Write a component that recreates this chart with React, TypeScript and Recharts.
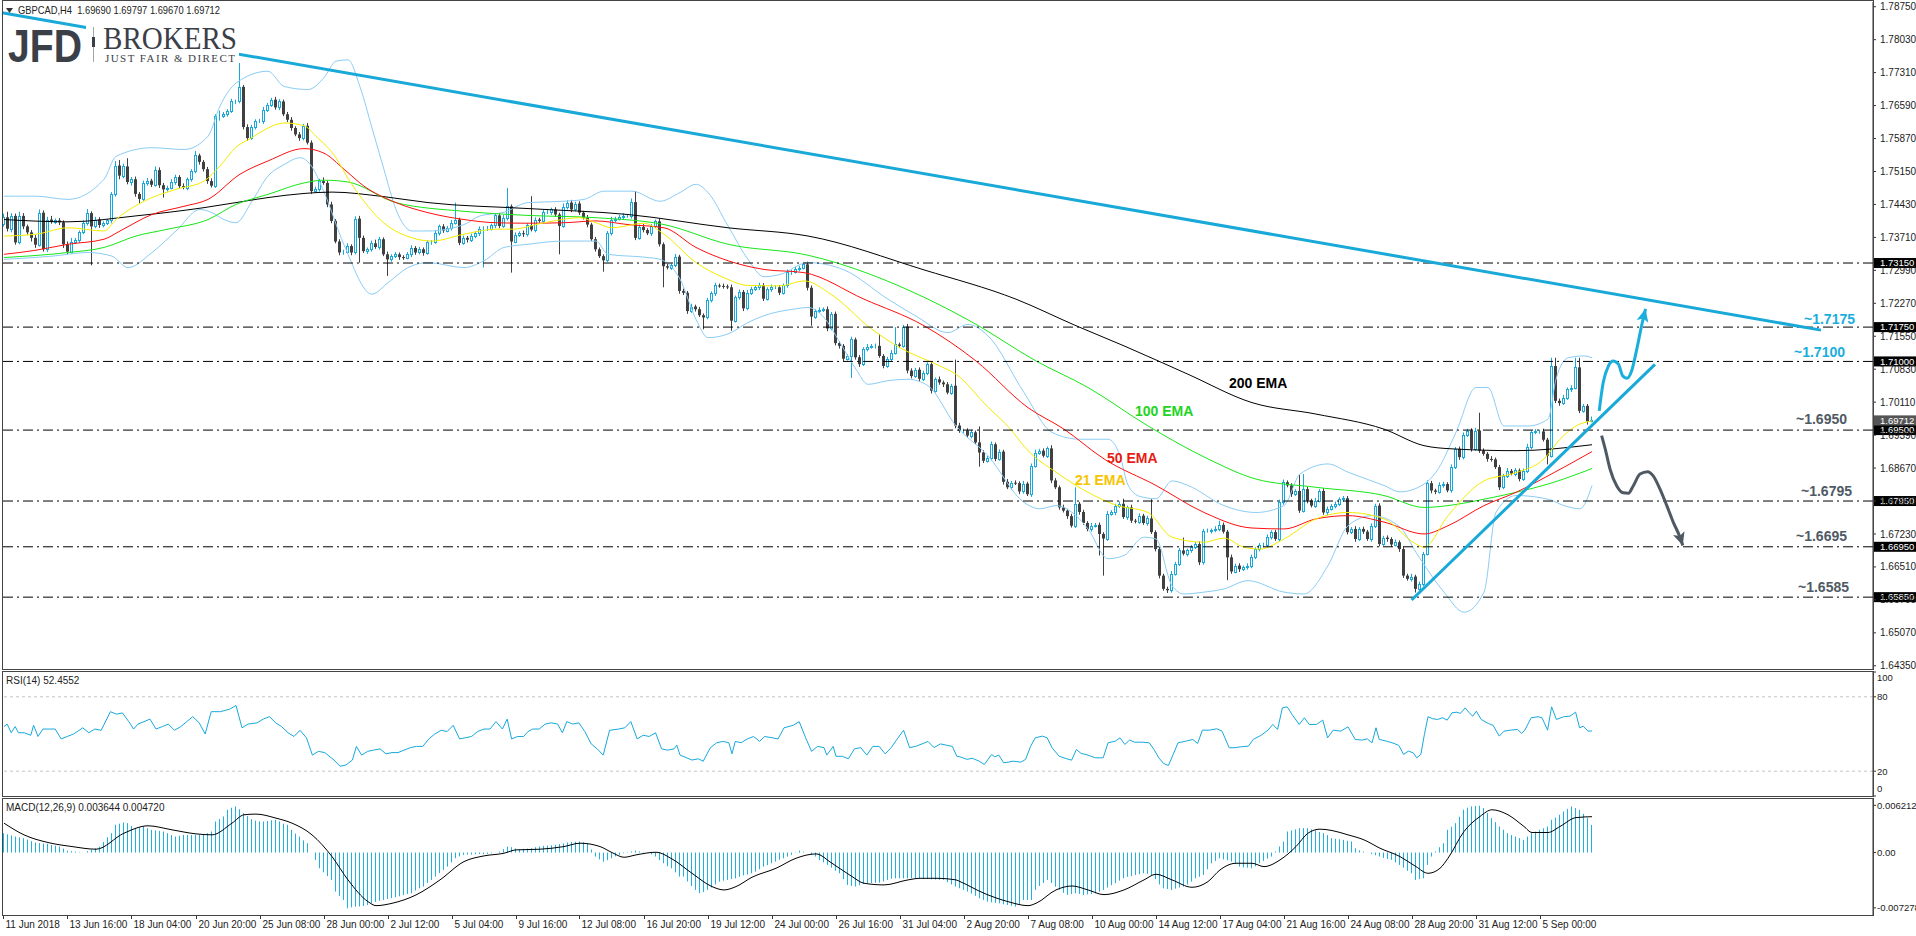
import React from 'react';
import { ComposedChart, Bar, Line, XAxis, YAxis, ReferenceLine } from 'recharts';

// GBPCAD H4, 11 Jun - 6 Sep 2018. Prices are kept in pips above 1.6000.
const FIRST_OPEN = 1400;

const closes = [
  1415, 1390, 1418, 1360, 1418, 1395, 1382, 1370, 1355, 1425,
  1345, 1410, 1405, 1408, 1404, 1356, 1340, 1362, 1365, 1382,
  1402, 1424, 1395, 1410, 1398, 1402, 1408, 1465, 1528, 1506,
  1526, 1492, 1498, 1466, 1455, 1490, 1495, 1486, 1518, 1485,
  1476, 1480, 1492, 1503, 1483, 1480, 1498, 1515, 1550, 1536,
  1520, 1494, 1484, 1636, 1636, 1640, 1647, 1668, 1668, 1700,
  1612, 1588, 1612, 1625, 1625, 1650, 1660, 1672, 1655, 1668,
  1640, 1628, 1610, 1596, 1588, 1615, 1578, 1472, 1476, 1494,
  1490, 1443, 1407, 1362, 1338, 1340, 1352, 1338, 1412, 1370,
  1341, 1345, 1358, 1350, 1367, 1334, 1323, 1330, 1334, 1328,
  1327, 1334, 1348, 1338, 1345, 1337, 1360, 1361, 1381, 1395,
  1386, 1392, 1403, 1410, 1359, 1370, 1366, 1373, 1380, 1390,
  1390, 1390, 1397, 1419, 1396, 1414, 1439, 1362, 1377, 1380,
  1378, 1397, 1388, 1410, 1407, 1426, 1426, 1432, 1421, 1396,
  1437, 1447, 1432, 1445, 1425, 1414, 1399, 1367, 1345, 1330,
  1321, 1380, 1410, 1412, 1415, 1418, 1418, 1448, 1370, 1394,
  1387, 1380, 1395, 1406, 1356, 1308, 1305, 1310, 1329, 1254,
  1250, 1210, 1220, 1214, 1201, 1196, 1234, 1249, 1266, 1265,
  1264, 1262, 1189, 1240, 1252, 1216, 1250, 1258, 1262, 1266,
  1237, 1258, 1262, 1262, 1250, 1266, 1295, 1296, 1302, 1305,
  1312, 1261, 1198, 1210, 1213, 1214, 1172, 1204, 1140, 1134,
  1106, 1111, 1148, 1109, 1094, 1127, 1132, 1134, 1134, 1112,
  1090, 1105, 1119, 1137, 1134, 1176, 1080, 1068, 1082, 1062,
  1074, 1094, 1036, 1061, 1054, 1050, 1032, 1047, 960, 948,
  949, 938, 945, 923, 901, 883, 890, 919, 887, 903,
  837, 825, 835, 834, 816, 833, 810, 872, 901, 905,
  894, 910, 840, 825, 781, 774, 762, 741, 789, 771,
  747, 734, 741, 743, 723, 713, 767, 770, 785, 789,
  760, 781, 752, 750, 763, 747, 757, 727, 690, 632,
  603, 600, 636, 658, 687, 680, 687, 694, 701, 661,
  730, 730, 731, 734, 743, 728, 672, 641, 654, 646,
  650, 654, 672, 690, 698, 700, 716, 727, 712, 792,
  836, 829, 810, 817, 774, 821, 796, 785, 796, 817,
  770, 778, 784, 788, 799, 801, 727, 734, 712, 734,
  728, 712, 740, 785, 701, 715, 712, 700, 705, 690,
  632, 625, 630, 603, 614, 680, 834, 818, 815, 830,
  832, 818, 869, 909, 891, 939, 949, 909, 949, 905,
  898, 887, 886, 869, 825, 850, 861, 855, 862, 843,
  861, 914, 945, 947, 947, 929, 894, 1090, 1014, 1009,
  1021, 1039, 1043, 1087, 992, 1003, 969, 971.2,
];

// upper and lower shadow length in pips
const wickUp = [
  8, 12, 6, 5, 9, 6, 4, 5, 6, 7,
  5, 6, 8, 4, 5, 4, 6, 8, 5, 4,
  6, 9, 4, 6, 5, 4, 3, 5, 10, 12,
  6, 18, 5, 6, 4, 5, 6, 4, 8, 6,
  5, 4, 6, 5, 4, 6, 4, 5, 10, 4,
  4, 5, 6, 4, 12, 5, 4, 6, 4, 52,
  4, 6, 5, 4, 5, 6, 5, 4, 6, 5,
  4, 5, 6, 4, 5, 4, 6, 5, 6, 5,
  8, 5, 6, 4, 5, 4, 6, 4, 5, 6,
  5, 4, 6, 8, 5, 4, 6, 4, 5, 4,
  4, 5, 6, 4, 5, 4, 5, 4, 6, 4,
  5, 4, 6, 37, 4, 5, 4, 6, 4, 5,
  5, 6, 4, 5, 5, 6, 40, 4, 5, 4,
  6, 5, 64, 5, 4, 5, 6, 4, 5, 4,
  8, 5, 6, 4, 5, 4, 6, 4, 5, 4,
  4, 5, 6, 4, 5, 6, 4, 8, 24, 5,
  6, 4, 5, 4, 6, 4, 5, 4, 6, 4,
  5, 4, 6, 4, 5, 4, 5, 4, 6, 4,
  5, 4, 6, 4, 5, 4, 6, 5, 4, 6,
  5, 4, 6, 4, 5, 4, 6, 4, 5, 4,
  4, 6, 5, 4, 5, 4, 6, 4, 5, 4,
  4, 5, 6, 4, 5, 4, 6, 4, 5, 26,
  4, 5, 6, 38, 4, 4, 6, 5, 4, 5,
  6, 4, 5, 4, 6, 4, 5, 4, 57, 6,
  4, 5, 6, 4, 35, 5, 4, 6, 4, 5,
  4, 6, 4, 5, 4, 6, 4, 5, 6, 4,
  5, 4, 7, 5, 4, 6, 4, 5, 36, 4,
  5, 4, 6, 4, 5, 4, 6, 5, 4, 5,
  11, 4, 6, 4, 5, 4, 6, 42, 4, 5,
  4, 5, 6, 4, 5, 28, 4, 5, 4, 6,
  4, 5, 4, 6, 9, 5, 4, 6, 4, 5,
  4, 5, 6, 4, 5, 4, 6, 4, 5, 6,
  6, 4, 5, 4, 37, 33, 5, 4, 6, 4,
  6, 5, 4, 6, 4, 5, 5, 4, 6, 4,
  5, 4, 6, 4, 5, 4, 5, 4, 6, 4,
  5, 4, 6, 4, 5, 4, 6, 5, 4, 6,
  5, 4, 6, 4, 5, 6, 4, 5, 6, 39,
  5, 4, 6, 4, 5, 4, 6, 4, 5, 4,
  5, 6, 4, 5, 4, 6, 4, 18, 18, 5,
  6, 4, 5, 21, 21, 4, 4, 8.5,
];

const wickDn = [
  5, 6, 8, 5, 4, 6, 5, 8, 7, 4,
  5, 6, 4, 5, 6, 8, 6, 4, 5, 6,
  4, 5, 85, 4, 6, 5, 4, 6, 5, 8,
  6, 5, 8, 6, 10, 4, 6, 5, 4, 6,
  18, 5, 4, 6, 5, 4, 6, 5, 4, 6,
  5, 6, 4, 5, 10, 4, 5, 4, 6, 4,
  5, 6, 4, 5, 4, 6, 5, 4, 5, 6,
  4, 5, 6, 4, 6, 5, 4, 6, 4, 5,
  4, 6, 5, 4, 6, 5, 4, 6, 4, 54,
  4, 6, 5, 4, 6, 4, 36, 5, 4, 6,
  5, 4, 6, 5, 4, 6, 4, 5, 4, 6,
  5, 4, 6, 4, 5, 4, 6, 5, 4, 6,
  85, 5, 4, 6, 5, 4, 6, 68, 4, 5,
  6, 5, 4, 6, 4, 5, 4, 6, 5, 62,
  4, 5, 6, 4, 5, 4, 6, 4, 5, 4,
  25, 4, 5, 6, 4, 5, 4, 6, 5, 4,
  5, 4, 6, 4, 5, 46, 4, 5, 4, 6,
  5, 6, 4, 5, 4, 26, 4, 5, 6, 4,
  5, 4, 22, 4, 5, 6, 4, 5, 4, 6,
  5, 4, 6, 4, 5, 4, 5, 6, 4, 5,
  4, 6, 20, 5, 4, 5, 6, 4, 5, 6,
  5, 4, 47, 5, 6, 4, 5, 4, 6, 4,
  5, 4, 6, 4, 5, 4, 6, 5, 4, 6,
  5, 4, 6, 4, 5, 6, 4, 5, 6, 4,
  5, 4, 6, 4, 31, 5, 4, 6, 5, 4,
  6, 4, 5, 4, 6, 5, 4, 6, 4, 5,
  4, 5, 6, 4, 5, 4, 6, 4, 5, 6,
  4, 5, 6, 4, 47, 81, 5, 4, 6, 5,
  4, 6, 5, 4, 5, 4, 6, 4, 5, 6,
  4, 6, 5, 4, 5, 4, 6, 5, 4, 6,
  5, 4, 6, 4, 5, 4, 50, 5, 4, 6,
  4, 5, 6, 4, 5, 4, 6, 5, 4, 6,
  5, 4, 6, 4, 5, 4, 6, 4, 5, 4,
  5, 6, 4, 5, 4, 6, 5, 4, 6, 4,
  5, 4, 6, 4, 5, 4, 6, 5, 4, 6,
  5, 4, 6, 8, 4, 5, 4, 6, 5, 4,
  6, 4, 5, 4, 6, 5, 4, 6, 4, 5,
  4, 6, 5, 4, 6, 4, 5, 4, 6, 5,
  4, 5, 6, 4, 5, 4, 19, 4, 5, 6,
  4, 5, 6, 4, 5, 4, 7, 2,
];

// indicator lines read at [bar, pips]
const ema21 = [[0,1374],[8,1378],[16,1392],[25,1385],[28,1410],[35,1450],[43,1476],[50,1494],[54,1527],[58,1568],[62,1589],[66,1610],[70,1621],[75,1615],[78,1592],[83,1545],[86,1500],[90,1450],[94,1410],[102,1370],[107,1363],[115,1378],[123,1389],[127,1389],[135,1403],[144,1414],[148,1403],[152,1392],[160,1402],[165,1378],[173,1316],[180,1283],[186,1266],[194,1265],[200,1276],[207,1245],[217,1170],[224,1130],[234,1090],[238,1072],[246,1000],[251,958],[256,905],[263,858],[271,814],[278,786],[286,770],[292,716],[300,705],[305,714],[310,694],[314,690],[320,712],[328,756],[336,770],[345,756],[353,701],[355,694],[361,763],[370,839],[378,857],[385,887],[389,930],[393,959],[397,970]];
const ema50 = [[0,1334],[8,1343],[16,1356],[25,1367],[29,1385],[37,1421],[45,1439],[51,1454],[59,1509],[66,1538],[75,1565],[80,1555],[85,1520],[90,1483],[98,1447],[106,1425],[115,1410],[123,1403],[131,1402],[140,1403],[148,1407],[156,1399],[165,1392],[173,1349],[181,1320],[190,1301],[200,1294],[215,1236],[230,1178],[243,1101],[256,999],[265,952],[275,887],[288,829],[300,770],[312,736],[320,734],[328,756],[336,763],[345,749],[355,723],[361,741],[370,785],[378,814],[386,850],[397,903]];
const ema100 = [[0,1327],[16,1338],[25,1349],[33,1374],[41,1389],[51,1410],[58,1443],[66,1465],[75,1490],[80,1496],[86,1492],[98,1447],[115,1428],[131,1419],[148,1414],[165,1399],[181,1356],[201,1332],[231,1236],[243,1181],[258,1101],[271,1043],[286,959],[301,887],[313,843],[328,825],[345,807],[355,781],[361,785],[370,799],[378,814],[386,832],[397,866]];
const ema200 = [[0,1410],[16,1405],[33,1418],[50,1436],[58,1447],[66,1458],[75,1467],[82,1470],[95,1460],[106,1447],[131,1434],[156,1421],[181,1392],[201,1374],[230,1300],[253,1236],[268,1178],[280,1134],[296,1072],[312,1010],[328,985],[345,952],[355,916],[362,909],[378,905],[397,918]];
const bbUpper = [[0,1461],[8,1461],[16,1454],[25,1498],[28,1548],[37,1567],[45,1563],[51,1592],[54,1658],[58,1708],[66,1734],[70,1701],[76,1694],[80,1720],[83,1756],[86,1759],[89,1700],[92,1610],[95,1519],[98,1432],[102,1385],[106,1385],[115,1399],[119,1418],[125,1426],[131,1447],[140,1450],[145,1454],[150,1472],[157,1472],[164,1450],[169,1469],[173,1487],[176,1469],[181,1396],[186,1323],[190,1285],[194,1290],[201,1316],[210,1300],[221,1236],[228,1199],[236,1163],[241,1181],[246,1156],[255,1032],[262,945],[269,930],[276,930],[279,894],[281,830],[284,805],[288,800],[292,839],[296,829],[305,785],[313,770],[320,785],[324,854],[331,876],[336,858],[345,829],[349,815],[355,832],[358,858],[363,945],[368,1043],[371,1043],[375,959],[381,959],[386,974],[388,1061],[391,1108],[395,1112],[397,1108]];
const bbLower = [[0,1323],[12,1330],[21,1338],[27,1330],[31,1305],[37,1338],[43,1385],[49,1432],[52,1425],[55,1410],[58,1403],[62,1450],[66,1505],[70,1530],[74,1545],[77,1525],[80,1470],[85,1355],[92,1247],[96,1272],[101,1305],[106,1316],[115,1305],[120,1320],[125,1349],[131,1356],[140,1363],[148,1363],[151,1334],[161,1327],[164,1323],[169,1280],[173,1192],[176,1152],[181,1160],[186,1185],[190,1200],[198,1215],[201,1218],[205,1196],[209,1141],[213,1083],[216,1050],[221,1058],[226,1061],[231,1047],[238,959],[246,894],[255,792],[259,778],[263,785],[268,763],[271,734],[276,669],[280,676],[285,716],[288,712],[292,610],[295,592],[300,596],[305,603],[311,621],[320,596],[325,592],[331,654],[336,741],[342,763],[349,738],[353,683],[360,596],[365,552],[370,596],[373,770],[378,807],[386,799],[390,785],[394,778],[397,829]];

// hand drawn levels, trend lines and scenario arrows
const LEVELS = [1.7315, 1.7175, 1.71, 1.695, 1.6795, 1.6695, 1.6585];
const LEVEL_NOTES = ['', '~1.7175', '~1.7100', '~1.6950', '~1.6795', '~1.6695', '~1.6585'];
const LAST_PRICE = 1.69712;
const downTrend = [[-0.5, 1.78616], [454.25, 1.71684]];
const upTrend = [[351.9, 1.65787], [412.75, 1.70937]];
const upArrow = [[398.8,992],[399.8,1054],[401.1,1090],[402.3,1101],[403.6,1094],[404.7,1068],[405.7,1063],[406.9,1079],[408.2,1127],[409.4,1178],[410.4,1215]];
const downArrow = [[399.4,938],[400.3,909],[401.5,865],[403.2,828],[404.8,813],[406.1,812],[407.3,828],[409,854],[410.9,859],[412.3,850],[414,821],[415.7,785],[417.3,749],[419,716],[419.7,698]];

// RSI(14) read at [bar, value]
const rsi14 = [[0,56],[0.8,58],[1.8,51],[2.8,56],[3.6,51],[5.1,51],[6.7,49],[7.4,57],[8.5,48],[9.7,54],[11.3,54],[12.8,54],[14.3,46],[15.8,48],[17.4,50],[19.7,55],[21.2,51],[22.7,54],[24.3,53],[26.6,68],[28.1,66],[29.6,67],[31.2,60],[32.4,54],[33.5,58],[35,60],[36.5,62],[38,54],[39.6,56],[41.1,58],[42.6,53],[44.2,56],[45.7,60],[47.2,64],[48.8,59],[50.3,50],[51.8,68],[54.1,68],[56.4,70],[58,73],[59.5,55],[61,58],[63.3,59],[64.8,62],[66.4,64],[67.9,59],[69.4,56],[71,51],[72.5,48],[74,53],[75.6,47],[77.1,33],[78.6,36],[80.2,35],[82.5,29],[84,24],[85.5,25],[87.1,29],[88.1,40],[89.4,33],[90.9,36],[92.4,37],[94,38],[95.5,34],[97,35],[98.5,35],[100,37],[101.6,39],[103.1,40],[104.7,40],[106.2,46],[107.7,50],[109.3,53],[110.8,52],[112.3,57],[113.9,46],[115.4,47],[116.9,48],[118.4,52],[120,54],[121.5,54],[123,60],[124.6,54],[125.8,62],[126.9,46],[128.4,48],[129.9,48],[131,52],[132.2,54],[133.8,54],[135.3,58],[136.8,59],[138.4,58],[139.6,51],[140.7,60],[142.2,58],[143.7,59],[145.2,52],[146.8,42],[148.3,38],[149.8,33],[151.4,53],[153.7,54],[155.2,55],[156.7,60],[158.3,46],[159.8,49],[161.3,48],[162.9,51],[164.4,38],[165.9,37],[167.5,38],[168.2,41],[169,33],[170.5,31],[172,29],[173.6,30],[174.8,28],[176.6,39],[178.2,43],[179.7,44],[181.2,43],[182,34],[182.8,44],[184.3,43],[185.8,46],[187.4,48],[188.9,44],[190.1,48],[192,47],[193.5,46],[195,55],[197.3,57],[198.8,60],[200.4,47],[201.9,36],[203.4,40],[205,39],[205.7,33],[207.3,40],[208,32],[209.6,32],[211.1,30],[212.6,38],[214.2,39],[215.7,33],[217.2,40],[218.8,40],[220.3,34],[221.8,39],[223.3,46],[224.9,53],[226.4,39],[227.9,40],[229.5,42],[231,44],[232.5,39],[234.1,42],[235.6,41],[237.1,40],[238.2,32],[239,31.6],[240.8,29.5],[242,30.5],[243.8,28.1],[245.1,25.4],[246.9,33.5],[247.7,31.6],[248.7,33],[249.9,26.8],[251.1,27.3],[252.3,28.1],[254.2,27.3],[255.4,29.5],[256.6,39.7],[257.8,46.9],[259.6,48.3],[260.8,46.9],[262,38.9],[263.8,32.1],[265.7,30],[266.9,28.9],[268.1,37.5],[269.3,34.3],[270.5,33.5],[271.7,32.1],[272.9,30.8],[274.8,30.8],[276,42.9],[277.8,44.2],[279,46.9],[280.2,41.6],[281.4,45.1],[282.6,43.4],[284.5,43.4],[286.3,42.9],[287.5,37.5],[288.7,30.8],[289.9,26.2],[291.1,24.6],[292.3,33.5],[293.5,42.9],[295.4,44.2],[297.2,45.6],[298.4,42.4],[299.6,53.1],[301.4,53.1],[303.2,54.2],[304.5,52.3],[306.3,38.9],[307.5,38.9],[309.3,39.7],[311.1,40.2],[312.3,45.6],[314.2,48.8],[316,53.1],[317.2,57.7],[318.4,53.7],[319.6,71.1],[320.8,71.9],[322,65.8],[323.8,57.7],[325.1,63.1],[326.3,57.7],[328.1,57.7],[329.7,61.2],[330.9,46.9],[332.3,53.1],[334.2,52.3],[336,55.8],[337.8,45.6],[339.6,45.1],[340.8,46.1],[342,42.9],[343,55],[343.8,45.6],[345.7,44.2],[347.5,42.4],[348.7,40.8],[349.9,33.5],[351.1,36.2],[352.3,34.8],[353.2,30.8],[354.2,33.5],[355.1,49.6],[356,63.9],[357.2,62.3],[358.4,61.7],[359.6,63.1],[360.8,61.2],[362,67.1],[363.2,67.6],[364.1,66.6],[365.3,71.1],[366.3,67.1],[367.2,64.4],[368.1,68.4],[369.3,61.7],[371.1,58.5],[372.3,56.9],[373.8,48.3],[375,52.3],[376.6,53.1],[378.4,53.7],[379.4,50.4],[380.2,53.1],[381.8,63.1],[383.5,63.9],[384.5,63.1],[385.9,53.1],[386.9,71.9],[388.1,61.7],[389.9,63.9],[391.5,64.4],[392.9,67.6],[393.9,55],[394.8,56.3],[396,52.3],[397,52.46]];

// MACD(12,26,9) main histogram per bar, in 1e-5
const macdHist = [
  255, 240, 225, 210, 200, 189, 170, 150, 132, 125,
  118, 114, 100, 90, 79, 50, 26, 18, 13, 6,
  0, 18, 35, 55, 79, 140, 200, 255, 365, 380,
  396, 387, 350, 321, 330, 343, 320, 299, 290, 285,
  277, 255, 230, 211, 220, 233, 233, 230, 232, 233,
  233, 255, 277, 409, 440, 475, 563, 590, 607, 570,
  519, 480, 440, 420, 410, 409, 415, 425, 431, 410,
  380, 365, 299, 250, 211, 160, 123, 0, -97, -207,
  -260, -310, -360, -514, -570, -624, -734, -720, -712, -708,
  -703, -690, -668, -650, -635, -624, -610, -600, -589, -575,
  -560, -545, -536, -500, -470, -448, -400, -360, -316, -270,
  -230, -185, -130, -75, -50, -31, -28, -25, -22, -20,
  -20, -18, -10, 0, 13, 45, 79, 70, 55, 44,
  48, 52, 57, 70, 80, 88, 92, 96, 101, 112,
  120, 132, 138, 142, 145, 135, 123, 40, -53, -90,
  -119, -100, -75, -50, -30, -9, 5, 15, 26, 15,
  5, 0, -25, -53, -100, -141, -180, -207, -260, -316,
  -316, -380, -440, -492, -536, -520, -492, -460, -420, -382,
  -370, -360, -350, -339, -320, -300, -290, -273, -250, -220,
  -185, -165, -140, -119, -95, -75, -53, -30, -5, 26,
  10, 0, -25, -53, -100, -130, -163, -200, -240, -273,
  -350, -426, -440, -448, -430, -415, -404, -400, -398, -396,
  -380, -360, -345, -339, -339, -339, -339, -339, -339, -339,
  -345, -348, -352, -355, -358, -360, -390, -420, -448, -470,
  -492, -514, -540, -570, -602, -625, -646, -655, -662, -668,
  -680, -690, -700, -712, -680, -624, -624, -624, -492, -440,
  -400, -360, -400, -448, -490, -530, -558, -545, -536, -545,
  -558, -550, -545, -536, -515, -492, -460, -430, -404, -370,
  -339, -320, -310, -295, -285, -273, -280, -295, -350, -420,
  -470, -480, -492, -475, -460, -448, -420, -382, -340, -320,
  -295, -220, -141, -110, -75, -90, -100, -119, -150, -185,
  -195, -200, -207, -180, -141, -110, -80, -53, 13, 80,
  145, 277, 290, 305, 321, 321, 321, 305, 290, 270,
  255, 230, 189, 180, 175, 167, 155, 145, 57, 30,
  13, 0, -18, -35, -53, -70, -85, -97, -130, -163,
  -200, -240, -273, -360, -350, -339, -163, -53, 13, 70,
  123, 299, 340, 387, 470, 563, 590, 607, 612, 616,
  585, 520, 453, 400, 343, 300, 255, 230, 211, 190,
  167, 210, 255, 275, 299, 320, 343, 431, 460, 497,
  541, 575, 607, 585, 563, 510, 453, 364,
];

// MACD signal line read at [bar, 1e-5]
const macdSignal = [[0,387],[5,233],[11,132],[17,79],[23,44],[30,255],[36,352],[42,299],[48,246],[52,233],[57,387],[60,497],[63,506],[68,453],[72,387],[77,233],[82,-53],[86,-360],[91,-646],[93,-699],[97,-668],[103,-558],[109,-360],[115,-119],[120,-44],[125,-9],[128,35],[134,44],[140,79],[144,123],[149,79],[152,0],[155,-62],[158,-31],[163,4],[167,-84],[172,-273],[177,-448],[180,-492],[183,-448],[187,-325],[193,-207],[198,-75],[203,-18],[207,-141],[212,-316],[215,-404],[220,-426],[226,-360],[229,-339],[233,-339],[238,-360],[239,-382],[245,-536],[251,-646],[256,-699],[258,-668],[263,-492],[267,-440],[271,-492],[275,-554],[280,-492],[285,-360],[288,-286],[292,-360],[297,-457],[301,-382],[304,-229],[308,-141],[312,-141],[315,-185],[319,-97],[323,79],[326,255],[329,308],[332,290],[336,233],[340,167],[344,57],[349,-53],[353,-185],[356,-273],[359,-207],[361,-75],[365,277],[369,475],[372,563],[376,497],[380,343],[382,264],[386,264],[389,343],[393,460],[397,472]];

const PRICE_TICKS = [1.7875, 1.7803, 1.7731, 1.7659, 1.7587, 1.7515, 1.7443, 1.7371, 1.7299, 1.7227, 1.7155, 1.7083, 1.7011, 1.6939, 1.6867, 1.6795, 1.6723, 1.6651, 1.6579, 1.6507, 1.6435];
const TIME_BARS = [0, 16, 32, 48, 64, 80, 96, 112, 128, 144, 160, 176, 192, 208, 224, 240, 256, 272, 288, 304, 320, 336, 352, 368, 384];
const TIME_LABELS = ['11 Jun 2018', '13 Jun 16:00', '18 Jun 04:00', '20 Jun 20:00', '25 Jun 08:00', '28 Jun 00:00', '2 Jul 12:00', '5 Jul 04:00', '9 Jul 16:00', '12 Jul 08:00', '16 Jul 20:00', '19 Jul 12:00', '24 Jul 00:00', '26 Jul 16:00', '31 Jul 04:00', '2 Aug 20:00', '7 Aug 08:00', '10 Aug 00:00', '14 Aug 12:00', '17 Aug 04:00', '21 Aug 16:00', '24 Aug 08:00', '28 Aug 20:00', '31 Aug 12:00', '5 Sep 00:00'];

const W = 1916;
const X_DOMAIN: [number, number] = [-0.5, 467.25];
const CYAN = '#17a9dc';
const BEAR = '#404040';
const BAND = '#8ccdf5';
const GREY_TXT = '#4f5a64';
const NARROW = '"Liberation Sans Narrow", "Liberation Sans", Arial, sans-serif';
const SANS = '"Liberation Sans", Arial, sans-serif';
const NOTE_STYLE = [null, { right: 1855, dy: -3, color: '#1aaedd' }, { right: 1845, dy: -4, color: '#1aaedd' }, { right: 1847, dy: -6, color: GREY_TXT }, { right: 1852, dy: -5, color: GREY_TXT }, { right: 1847, dy: -6, color: GREY_TXT }, { right: 1849, dy: -5, color: GREY_TXT }];

const px = (p: number) => 1.6 + p / 10000;
const pts = (arr: number[][]) => arr.map(([i, p]) => ({ i, v: px(p) }));

const candles = closes.map((cp, i) => {
  const o = px(i === 0 ? FIRST_OPEN : closes[i - 1]);
  const c = px(cp);
  const h = Math.max(o, c) + (wickUp[i] ?? 0) / 10000;
  const l = Math.min(o, c) - (wickDn[i] ?? 0) / 10000;
  return { i, o, h, l, c, range: [l, h] };
});

const rsiData = rsi14.map(([i, v]) => ({ i, v }));
const histData = macdHist.map((v, i) => ({ i, v: v / 100000 }));
const signalData = macdSignal.map(([i, v]) => ({ i, v: v / 100000 }));

function Candle(props: any) {
  const { x, y, width, height, payload } = props;
  if (!payload || !isFinite(x) || !isFinite(y) || !isFinite(height)) return <g />;
  const { o, h, l, c } = payload;
  const top = Math.min(y, y + height);
  const hgt = Math.abs(height);
  const span = h - l;
  const yOf = (v: number) => (span > 0 ? top + ((h - v) / span) * hgt : top);
  const cx = Math.floor(x + width / 2) + 0.5;
  const bull = c >= o;
  const bTop = yOf(Math.max(o, c));
  const bBot = yOf(Math.min(o, c));
  return (
    <g>
      <line x1={cx} x2={cx} y1={top} y2={top + hgt} stroke={bull ? CYAN : BEAR} strokeWidth={1} />
      {bull ? (
        <rect x={cx - 1} y={Math.round(bTop) + 0.5} width={2} height={Math.max(Math.round(bBot) - Math.round(bTop), 0)} fill="#fff" stroke={CYAN} strokeWidth={1} />
      ) : (
        <rect x={cx - 1.5} y={bTop} width={3} height={Math.max(bBot - bTop, 1)} fill={BEAR} />
      )}
    </g>
  );
}

function HistBar(props: any) {
  const { x, y, width, height } = props;
  if (!isFinite(x) || !isFinite(y) || !isFinite(height)) return <g />;
  const top = Math.min(y, y + height);
  return <rect x={Math.floor(x + width / 2)} y={top} width={1} height={Math.abs(height)} fill="#1fb0e0" />;
}

const levelLabel = (k: number) => (props: any) => {
  const vb = props.viewBox || {};
  const right = vb.x + vb.width;
  const y = vb.y;
  const note = NOTE_STYLE[k];
  return (
    <g>
      {note && (
        <text x={note.right} y={y + note.dy} textAnchor="end" fontFamily={SANS} fontWeight="bold" fontSize={14} fill={note.color}>
          {LEVEL_NOTES[k]}
        </text>
      )}
      <rect x={right + 1} y={y - 5} width={43} height={10} fill="#000" />
      <text x={right + 7} y={y + 3.3} fontFamily={NARROW} fontSize={9.5} fill="#fff">
        {LEVELS[k].toFixed(5)}
      </text>
    </g>
  );
};

const lastLabel = (props: any) => {
  const vb = props.viewBox || {};
  const right = vb.x + vb.width;
  return (
    <g>
      <rect x={right + 1} y={vb.y - 5} width={43} height={10} fill="#555" />
      <text x={right + 7} y={vb.y + 3.3} fontFamily={NARROW} fontSize={9.5} fill="#fff">
        {LAST_PRICE.toFixed(5)}
      </text>
    </g>
  );
};

const arrowHead = (last: number, angle: number, color: string) => (p: any) => {
  if (p.index !== last || !isFinite(p.cx)) return <g key={p.index} />;
  const { cx, cy } = p;
  return (
    <polygon
      key={p.index}
      points={`${cx},${cy} ${cx - 6},${cy + 13} ${cx},${cy + 10} ${cx + 6},${cy + 13}`}
      fill={color}
      transform={`rotate(${angle} ${cx} ${cy})`}
    />
  );
};

function RsiTick(props: any) {
  const { x, y, payload } = props;
  const v = payload.value;
  const dy = v === 100 ? 6 : v === 0 ? -7 : 0;
  return (
    <text x={x} y={y + dy} dy="0.35em" fontFamily={NARROW} fontSize={9.5} fill="#222">
      {v}
    </text>
  );
}

function MacdTick(props: any) {
  const { x, y, payload } = props;
  const v = payload.value;
  const txt = v === 0 ? '0.00' : v.toFixed(6);
  return (
    <text x={x} y={y} dy="0.35em" fontFamily={NARROW} fontSize={9.5} fill="#222">
      {txt}
    </text>
  );
}

function TimeTick(props: any) {
  const { x, y, payload } = props;
  const k = TIME_BARS.indexOf(payload.value);
  const tx = Math.floor(x) + 0.5;
  return (
    <g>
      <line x1={tx} x2={tx} y1={y} y2={y + 4} stroke="#333" />
      <text x={tx + 2} y={y + 13} fontFamily={NARROW} fontSize={10} fill="#222">
        {TIME_LABELS[k]}
      </text>
    </g>
  );
}

function MainPanel() {
  return (
    <ComposedChart width={W} height={672} data={candles} margin={{ top: 2, right: 0, bottom: 3, left: 2 }}>
      <XAxis type="number" dataKey="i" domain={X_DOMAIN} hide allowDataOverflow />
      <YAxis
        orientation="right"
        type="number"
        domain={[1.6428, 1.78853]}
        ticks={PRICE_TICKS}
        interval={0}
        width={43}
        tickSize={3}
        tickMargin={4}
        allowDataOverflow
        axisLine={{ stroke: '#333' }}
        tickLine={{ stroke: '#333' }}
        tick={{ fontSize: 10, fill: '#222', fontFamily: NARROW }}
        tickFormatter={(v: number) => v.toFixed(5)}
      />
      <Line data={pts(bbUpper)} dataKey="v" type="monotone" stroke={BAND} strokeWidth={1} dot={false} isAnimationActive={false} />
      <Line data={pts(bbLower)} dataKey="v" type="monotone" stroke={BAND} strokeWidth={1} dot={false} isAnimationActive={false} />
      <Line data={pts(ema200)} dataKey="v" type="monotone" stroke="#000" strokeWidth={1} dot={false} isAnimationActive={false} />
      <Line data={pts(ema100)} dataKey="v" type="monotone" stroke="#18e818" strokeWidth={1} dot={false} isAnimationActive={false} />
      <Line data={pts(ema50)} dataKey="v" type="monotone" stroke="#ff1010" strokeWidth={1} dot={false} isAnimationActive={false} />
      <Line data={pts(ema21)} dataKey="v" type="monotone" stroke="#f4ec00" strokeWidth={1} dot={false} isAnimationActive={false} />
      <Bar dataKey="range" barSize={3} shape={(p: any) => <Candle {...p} />} isAnimationActive={false} />
      {LEVELS.map((lv, k) => (
        <ReferenceLine key={lv} y={lv} stroke="#000" strokeWidth={1} strokeDasharray="10 4 2 4" label={levelLabel(k)} />
      ))}
      <ReferenceLine y={LAST_PRICE} stroke="transparent" label={lastLabel} />
      <ReferenceLine
        segment={downTrend.map(([i, p]) => ({ x: i, y: p }))}
        stroke="#19a9d8"
        strokeWidth={3}
        ifOverflow="visible"
      />
      <ReferenceLine
        segment={upTrend.map(([i, p]) => ({ x: i, y: p }))}
        stroke="#19a9d8"
        strokeWidth={3}
        ifOverflow="visible"
      />
      <Line
        data={pts(upArrow)}
        dataKey="v"
        type="monotone"
        stroke="#1aaedd"
        strokeWidth={3}
        dot={arrowHead(upArrow.length - 1, 14, '#1aaedd')}
        isAnimationActive={false}
      />
      <Line
        data={pts(downArrow)}
        dataKey="v"
        type="monotone"
        stroke="#4f5963"
        strokeWidth={3}
        dot={arrowHead(downArrow.length - 1, 162, '#4f5963')}
        isAnimationActive={false}
      />
    </ComposedChart>
  );
}

function RsiPanel() {
  return (
    <ComposedChart width={W} height={126} data={rsiData} margin={{ top: 1, right: 0, bottom: 1, left: 2 }}>
      <XAxis type="number" dataKey="i" domain={X_DOMAIN} hide allowDataOverflow />
      <YAxis
        orientation="right"
        type="number"
        domain={[0, 100]}
        ticks={[0, 20, 80, 100]}
        interval={0}
        width={43}
        tickSize={3}
        tickMargin={1}
        axisLine={{ stroke: '#333' }}
        tickLine={{ stroke: '#333' }}
        tick={<RsiTick />}
      />
      <ReferenceLine y={80} stroke="#c4c4c4" strokeDasharray="3 3" />
      <ReferenceLine y={20} stroke="#c4c4c4" strokeDasharray="3 3" />
      <Line dataKey="v" type="linear" stroke={CYAN} strokeWidth={1} dot={false} isAnimationActive={false} />
    </ComposedChart>
  );
}

function MacdPanel() {
  return (
    <ComposedChart width={W} height={139} data={histData} margin={{ top: 1, right: 0, bottom: 0, left: 2 }}>
      <XAxis
        type="number"
        dataKey="i"
        domain={X_DOMAIN}
        ticks={TIME_BARS}
        interval={0}
        height={21}
        tickSize={0}
        tickMargin={0}
        axisLine={false}
        tickLine={false}
        allowDataOverflow
        tick={<TimeTick />}
      />
      <YAxis
        orientation="right"
        type="number"
        domain={[-0.00822, 0.00718]}
        ticks={[-0.007278, 0, 0.006212]}
        interval={0}
        width={43}
        tickSize={3}
        tickMargin={1}
        allowDataOverflow
        axisLine={{ stroke: '#333' }}
        tickLine={{ stroke: '#333' }}
        tick={<MacdTick />}
      />
      <Bar dataKey="v" barSize={1} shape={(p: any) => <HistBar {...p} />} isAnimationActive={false} />
      <Line data={signalData} dataKey="v" type="monotone" stroke="#000" strokeWidth={1} dot={false} isAnimationActive={false} />
    </ComposedChart>
  );
}

export default function App() {
  const emaLabel = { fontFamily: SANS, fontWeight: 'bold' as const, fontSize: 14 };
  return (
    <div style={{ position: 'absolute', left: 0, top: 0, width: W, height: 936, background: '#fff', overflow: 'hidden' }}>
      <div style={{ position: 'absolute', left: 0, top: 0 }}>
        <MainPanel />
      </div>
      <div style={{ position: 'absolute', left: 0, top: 671 }}>
        <RsiPanel />
      </div>
      <div style={{ position: 'absolute', left: 0, top: 797 }}>
        <MacdPanel />
      </div>
      <svg width={W} height={936} style={{ position: 'absolute', left: 0, top: 0, pointerEvents: 'none' }}>
        <rect x={2.5} y={0.5} width={1871} height={669} fill="none" stroke="#444" />
        <rect x={2.5} y={671.5} width={1871} height={125} fill="none" stroke="#444" />
        <rect x={2.5} y={798.5} width={1871} height={117} fill="none" stroke="#444" />

        <polygon points="6,8 13,8 9.5,13" fill="#333" />
        <text x={18} y={14} fontFamily={SANS} fontSize={11} textLength={202} lengthAdjust="spacingAndGlyphs" fill="#222" style={{ whiteSpace: 'pre' }}>
          {'GBPCAD,H4  1.69690 1.69797 1.69670 1.69712'}
        </text>

        <rect x={86} y={19} width={153} height={44} fill="#fff" />
        <text x={8} y={62} fontFamily={SANS} fontWeight="bold" fontSize={47} textLength={74} lengthAdjust="spacingAndGlyphs" fill="#3b4048">
          JFD
        </text>
        <line x1={93.5} x2={93.5} y1={27} y2={62} stroke="#a0a5ab" />
        <rect x={92} y={37} width={3} height={10} fill="#3b4048" />
        <text x={103} y={48.5} fontFamily="'Liberation Serif', 'DejaVu Serif', serif" fontSize={31} textLength={134} lengthAdjust="spacingAndGlyphs" fill="#3b4048">
          BROKERS
        </text>
        <text x={105} y={62} fontFamily="'Liberation Serif', 'DejaVu Serif', serif" fontSize={11} textLength={130} lengthAdjust="spacing" fill="#3b4048">
          JUST FAIR &amp; DIRECT
        </text>

        <text x={1229} y={388} {...emaLabel} fill="#000">200 EMA</text>
        <text x={1135} y={416} {...emaLabel} fill="#22d422">100 EMA</text>
        <text x={1107} y={463} {...emaLabel} fill="#e81c14">50 EMA</text>
        <text x={1075} y={485} {...emaLabel} fill="#f6c400">21 EMA</text>

        <text x={6} y={684} fontFamily={NARROW} fontSize={10} fill="#222">RSI(14) 52.4552</text>
        <text x={6} y={811} fontFamily={NARROW} fontSize={10} fill="#222">MACD(12,26,9) 0.003644 0.004720</text>
      </svg>
    </div>
  );
}
